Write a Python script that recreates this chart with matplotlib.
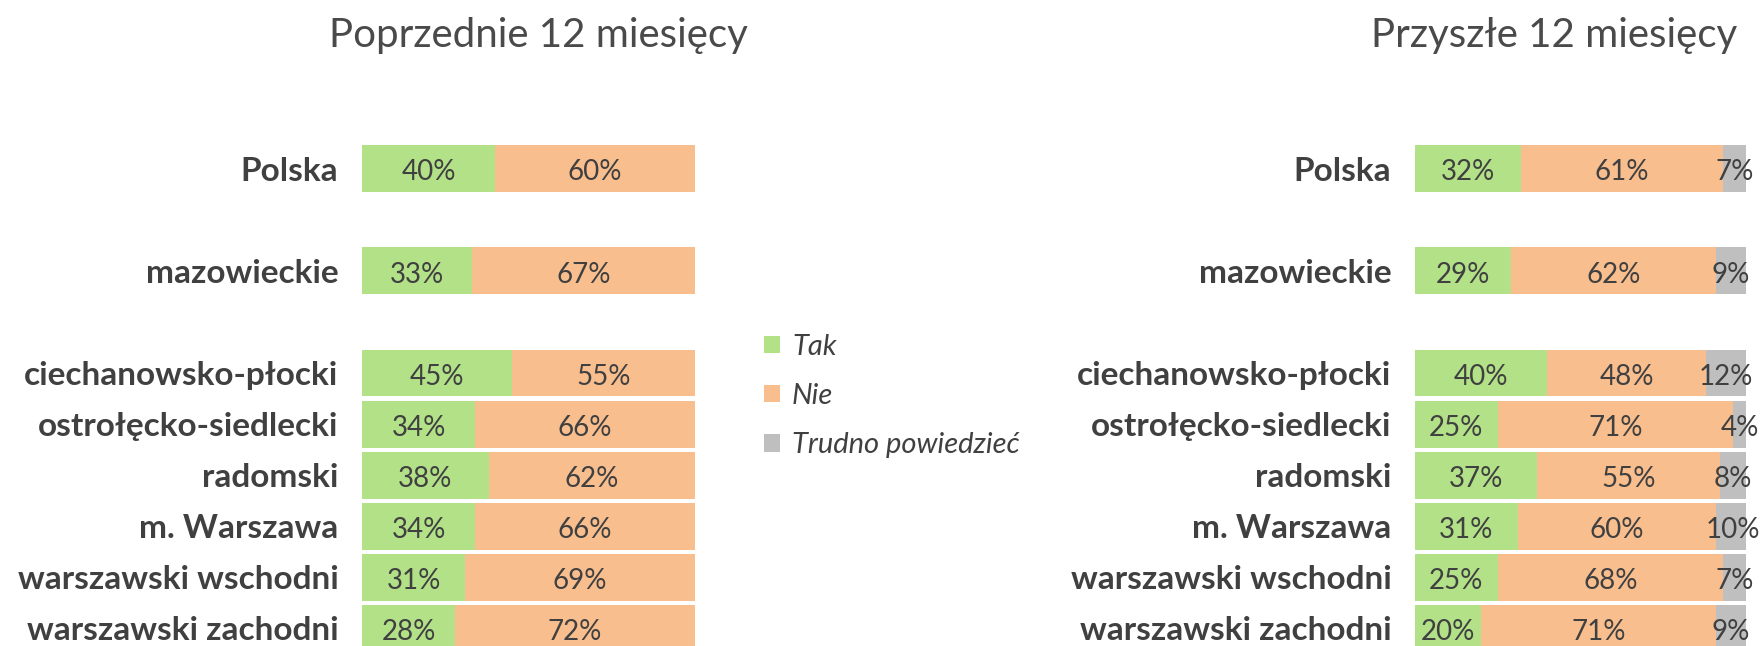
import numpy as np
import matplotlib
matplotlib.use("Agg")
from matplotlib import pyplot as plt

# regions, with blank slots as in the original layout
regions = ["Polska", "", "mazowieckie", "", "ciechanowsko-płocki",
           "ostrołęcko-siedlecki", "radomski", "m. Warszawa",
           "warszawski wschodni", "warszawski zachodni"]

# previous 12 months (percent)
prev_tak = [40, None, 33, None, 45, 34, 38, 34, 31, 28]
prev_nie = [60, None, 67, None, 55, 66, 62, 66, 69, 72]

# next 12 months (percent)
next_tak = [32, None, 29, None, 40, 25, 37, 31, 25, 20]
next_nie = [61, None, 62, None, 48, 71, 55, 60, 68, 71]
next_trudno = [7, None, 9, None, 12, 4, 8, 10, 7, 9]

series_names = ["Tak", "Nie", "Trudno powiedzieć"]
colors = ["#B2E188", "#F9BE8E", "#BFBFBF"]

title_prev = "Poprzednie 12 miesięcy"
title_next = "Przyszłe 12 miesięcy"

txt = "#404040"
plt.rcParams['font.family'] = ['Lato', 'DejaVu Sans']

fig = plt.figure(figsize=(17.64, 6.46), dpi=100)


def draw_panel(ax, series):
    y = np.arange(len(regions))
    mask = np.array([v is not None for v in series[0]])
    left = np.zeros(len(regions))
    conts = []
    for vals, col in zip(series, colors):
        v = np.array([0 if x is None else x for x in vals], dtype=float)
        c = ax.barh(y[mask], v[mask], left=left[mask], height=0.92,
                    color=col, edgecolor="none")
        conts.append(c)
        for yi, vi, li in zip(y[mask], v[mask], left[mask]):
            ax.text(li + vi / 2, yi + 0.07, f"{int(vi)}%", ha="center",
                    va="center", fontsize=20, color=txt)
        left = left + v
    ax.set_xlim(0, 100)
    ax.set_ylim(9.35, -3.31)
    ax.set_yticks(y[mask])
    ax.set_yticklabels([r for r, m in zip(regions, mask) if m],
                       fontsize=24, fontweight="bold", color=txt)
    ax.tick_params(axis="y", length=0, pad=17)
    ax.set_xticks([])
    for s in ax.spines.values():
        s.set_visible(False)
    return conts


ax1 = fig.add_axes([362 / 1764, 0, 333 / 1764, 1])
draw_panel(ax1, [prev_tak, prev_nie])

ax2 = fig.add_axes([1415 / 1764, 0, 331 / 1764, 1])
conts = draw_panel(ax2, [next_tak, next_nie, next_trudno])

fig.text(538 / 1764, 0.945, title_prev, ha="center", va="center",
         fontsize=29, fontweight="normal", color="#4a4a4a")
fig.text(1554 / 1764, 0.945, title_next, ha="center", va="center",
         fontsize=29, fontweight="normal", color="#4a4a4a")

leg = fig.legend(conts, series_names, loc="center left",
                 bbox_to_anchor=(738 / 1764, 1 - 396 / 646), frameon=False,
                 handlelength=0.55, handleheight=0.55, handletextpad=0.4,
                 labelspacing=0.8, prop={"size": 21, "style": "italic"})
for t in leg.get_texts():
    t.set_color(txt)

fig.savefig("out.png", dpi=100)
